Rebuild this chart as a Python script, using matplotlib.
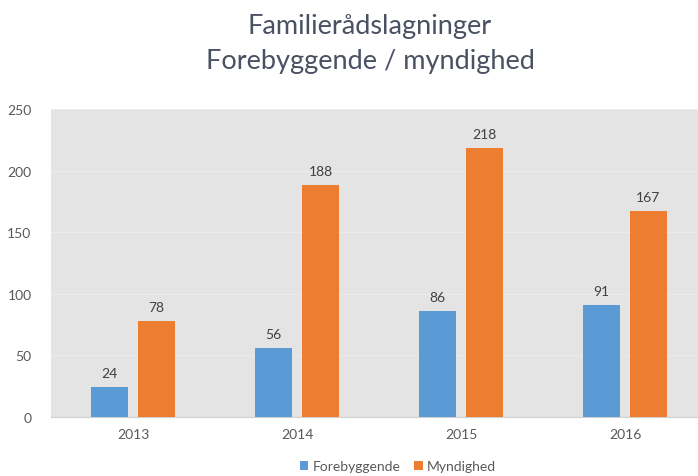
import matplotlib.pyplot as plt
import numpy as np

years = ['2013', '2014', '2015', '2016']
forebyggende = [24, 56, 86, 91]
myndighed = [78, 188, 218, 167]
yticks = [0, 50, 100, 150, 200, 250]

plt.rcParams['font.family'] = ['Lato', 'DejaVu Sans']

fig = plt.figure(figsize=(6.98, 4.77), dpi=100)
ax = fig.add_axes([51 / 698, 59 / 477, 656 / 698, 308 / 477])
ax.set_facecolor('#e4e4e4')

x = np.arange(len(years))
w = 0.226
off = 0.143
b1 = ax.bar(x - off, forebyggende, w, color='#5b9bd5', label='Forebyggende', zorder=3)
b2 = ax.bar(x + off, myndighed, w, color='#ed7d31', label='Myndighed', zorder=3)

# value labels above the bars
for bars in (b1, b2):
    for rect in bars:
        h = rect.get_height()
        ax.annotate(f"{h:.0f}", xy=(rect.get_x() + rect.get_width() / 2, h),
                    xytext=(0, 6), textcoords="offset points",
                    ha='center', va='bottom', fontsize=10, color='#404040')

ax.set_ylim(0, 250)
ax.set_xlim(-0.5, 3.5)
ax.set_yticks(yticks)
ax.set_xticks(x)
ax.set_xticklabels(years)
ax.yaxis.grid(True, color='#ebebeb', linewidth=0.8, zorder=0)
ax.tick_params(axis='both', length=0, labelsize=10, labelcolor='#595959')
ax.tick_params(axis='y', pad=14)
ax.tick_params(axis='x', pad=8)
for side in ('top', 'right', 'left'):
    ax.spines[side].set_visible(False)
ax.spines['bottom'].set_color('#d0d0d0')

fig.text(0.53, 0.945, 'Familierådslagninger', ha='center', va='center',
         fontsize=19.5, color='#4a5162')
fig.text(0.53, 0.872, 'Forebyggende / myndighed', ha='center', va='center',
         fontsize=19.5, color='#4a5162')

fig.legend(handles=[b1, b2], loc='center', bbox_to_anchor=(0.57, 0.02),
           ncol=2, frameon=False, fontsize=10, labelcolor='#595959',
           handlelength=0.6, handleheight=0.6, handletextpad=0.3, columnspacing=1.0)

fig.savefig('out.png', dpi=100)
